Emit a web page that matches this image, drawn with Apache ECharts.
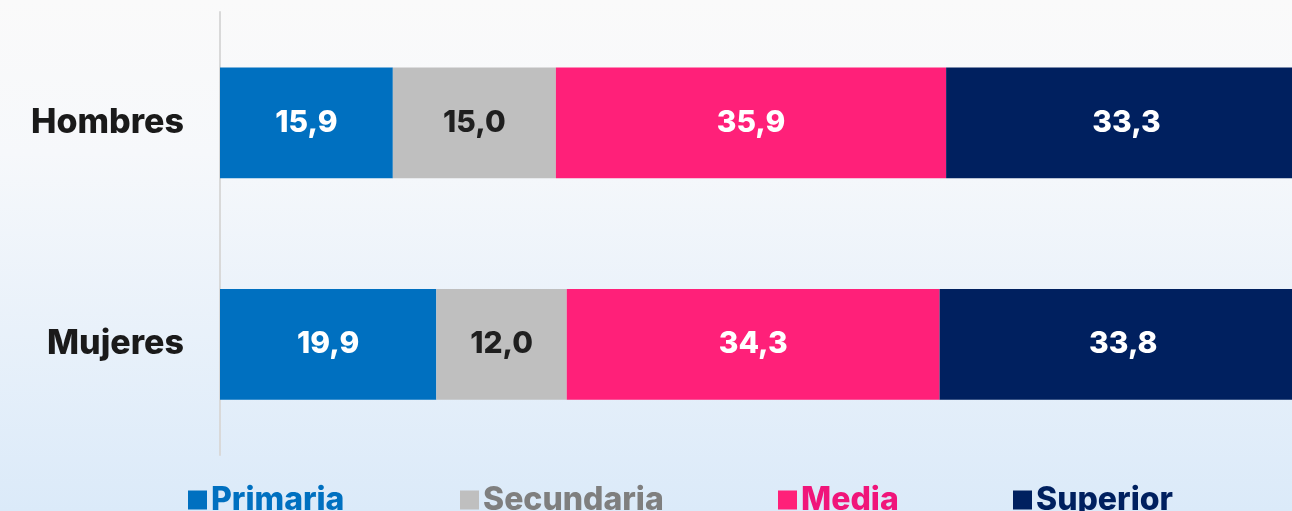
<!DOCTYPE html>
<html>
<head>
<meta charset="utf-8">
<script src="https://cdn.jsdelivr.net/npm/echarts@6/dist/echarts.min.js"></script>
<style>
  html, body { margin: 0; padding: 0; }
  #chart { width: 1292px; height: 511px; }
</style>
</head>
<body>
<div id="chart"></div>
<script>
const categories = ['Hombres', 'Mujeres']
const levels = ['Primaria', 'Secundaria', 'Media', 'Superior']
const primaria = [15.9, 19.9]
const secundaria = [15.0, 12.0]
const media = [35.9, 34.3]
const superior = [33.3, 33.8]

const barColors = ['#0070c0', '#bfbfbf', '#ff2079', '#00205f']
const legendTextColors = ['#0070c0', '#7f7f7f', '#f0157a', '#00205f']
const legendLeft = [188, 460, 778, 1013]

const font = 'Inter, "Open Sans", sans-serif'
const fmt = p => p.value.toFixed(1).replace('.', ',')

function serie(i, data, labelColor) {
  return {
    name: levels[i],
    type: 'bar',
    stack: 'total',
    barWidth: '50%',
    data: data,
    itemStyle: { color: barColors[i] },
    label: {
      show: true,
      position: 'inside',
      formatter: fmt,
      color: labelColor,
      fontFamily: font,
      fontWeight: 800,
      fontSize: 30
    }
  }
}

// one legend per item so each sits where the reference puts it
const legends = levels.map((name, i) => ({
  left: legendLeft[i],
  top: 484,
  padding: 0,
  itemWidth: 19,
  itemHeight: 19,
  icon: 'rect',
  textStyle: {
    color: legendTextColors[i],
    fontFamily: font,
    fontWeight: 800,
    fontSize: 32,
    padding: [0, 0, 0, -1]
  },
  data: [name]
}))

const chart = echarts.init(document.getElementById('chart'))
chart.setOption({
  animation: false,
  backgroundColor: {
    type: 'linear', x: 0, y: 0, x2: 0, y2: 1,
    colorStops: [
      { offset: 0, color: '#fafafa' },
      { offset: 0.3, color: '#f6f8fb' },
      { offset: 1, color: '#dbeaf9' }
    ]
  },
  // the plot runs past the right edge of the picture
  grid: { left: 220, width: 1087, top: 12, bottom: 56, outerBoundsMode: 'none' },
  xAxis: {
    type: 'value',
    min: 0,
    max: 100,
    show: false
  },
  yAxis: {
    type: 'category',
    inverse: true,
    data: categories,
    axisLine: { show: true, lineStyle: { color: '#d9d9d9', width: 2 } },
    axisTick: { show: false },
    axisLabel: {
      margin: 36,
      color: '#1a1a1a',
      fontFamily: font,
      fontWeight: 800,
      fontSize: 34
    }
  },
  legend: legends,
  series: [
    serie(0, primaria, '#ffffff'),
    serie(1, secundaria, '#1f1f1f'),
    serie(2, media, '#ffffff'),
    serie(3, superior, '#ffffff')
  ]
})
</script>
</body>
</html>
